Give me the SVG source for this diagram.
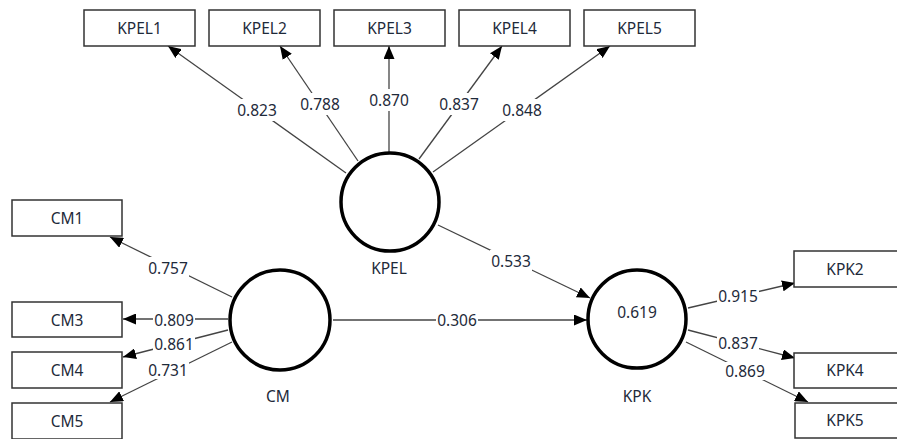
<svg xmlns="http://www.w3.org/2000/svg" width="897" height="439" viewBox="0 0 897 439">
<style>
text{font-family:"Noto Sans","Open Sans","DejaVu Sans",sans-serif;font-size:15.5px;fill:#1e2a3a;text-anchor:middle;dominant-baseline:central}
.box{fill:#fff;stroke:#333;stroke-width:1.5}
.lv{fill:#fff;stroke:#000;stroke-width:3.5}
.e{stroke:#444;stroke-width:1.3;fill:none;marker-end:url(#ah)}
.bg{fill:#fff}
</style>
<defs>
<marker id="ah" markerUnits="userSpaceOnUse" markerWidth="13" markerHeight="11" refX="13" refY="5.5" orient="auto">
<path d="M0,0 L13,5.5 L0,11 z" fill="#000"/>
</marker>
</defs>
<rect width="897" height="439" fill="#fff"/>
<g id="connectors">
<line class="e" x1="346" y1="173" x2="168" y2="46"/>
<line class="e" x1="358" y1="161" x2="280" y2="46"/>
<line class="e" x1="389" y1="152" x2="389" y2="46"/>
<line class="e" x1="419" y1="159" x2="502" y2="46"/>
<line class="e" x1="433" y1="172" x2="610" y2="46"/>
<line class="e" x1="232" y1="297" x2="110" y2="237"/>
<line class="e" x1="228" y1="319" x2="123" y2="319"/>
<line class="e" x1="228" y1="330" x2="123" y2="357"/>
<line class="e" x1="232" y1="342" x2="110" y2="402"/>
<line class="e" x1="333" y1="320" x2="587" y2="320"/>
<line class="e" x1="438" y1="225" x2="590" y2="298"/>
<line class="e" x1="688" y1="308" x2="795" y2="283"/>
<line class="e" x1="688" y1="330" x2="795" y2="358"/>
<line class="e" x1="686" y1="342" x2="808" y2="402"/>
<rect class="bg" x="236" y="99" width="42" height="22"/><text x="257" y="110">0.823</text>
<rect class="bg" x="299" y="93" width="42" height="22"/><text x="320" y="104">0.788</text>
<rect class="bg" x="368" y="89" width="42" height="22"/><text x="389" y="100">0.870</text>
<rect class="bg" x="438" y="93" width="42" height="22"/><text x="459" y="104">0.837</text>
<rect class="bg" x="501" y="99" width="42" height="22"/><text x="522" y="110">0.848</text>
<rect class="bg" x="147" y="257" width="42" height="22"/><text x="168" y="268">0.757</text>
<rect class="bg" x="153" y="311" width="42" height="18"/><text x="174" y="320">0.809</text>
<rect class="bg" x="153" y="335" width="42" height="18"/><text x="174" y="344">0.861</text>
<rect class="bg" x="147" y="361" width="42" height="18"/><text x="168" y="370">0.731</text>
<rect class="bg" x="436" y="310" width="42" height="20"/><text x="457" y="320">0.306</text>
<rect class="bg" x="490" y="250" width="42" height="22"/><text x="511" y="261">0.533</text>
<rect class="bg" x="717" y="286" width="42" height="20"/><text x="738" y="296">0.915</text>
<rect class="bg" x="717" y="334" width="42" height="18"/><text x="738" y="343">0.837</text>
<rect class="bg" x="724" y="362" width="42" height="18"/><text x="745" y="371">0.869</text>
</g>
<g id="KPEL1"><rect class="box" x="84" y="10" width="111" height="36"/><text x="139.5" y="28">KPEL1</text></g>
<g id="KPEL2"><rect class="box" x="209" y="10" width="111" height="36"/><text x="264.5" y="28">KPEL2</text></g>
<g id="KPEL3"><rect class="box" x="334" y="10" width="111" height="36"/><text x="389.5" y="28">KPEL3</text></g>
<g id="KPEL4"><rect class="box" x="459" y="10" width="111" height="36"/><text x="514.5" y="28">KPEL4</text></g>
<g id="KPEL5"><rect class="box" x="584" y="10" width="111" height="36"/><text x="639.5" y="28">KPEL5</text></g>
<g id="CM1"><rect class="box" x="12" y="200" width="110" height="36"/><text x="67" y="218">CM1</text></g>
<g id="CM3"><rect class="box" x="12" y="302" width="110" height="35"/><text x="67" y="320">CM3</text></g>
<g id="CM4"><rect class="box" x="12" y="352" width="110" height="36"/><text x="67" y="370">CM4</text></g>
<g id="CM5"><rect class="box" x="12" y="403" width="110" height="36"/><text x="67" y="421">CM5</text></g>
<g id="KPK2"><rect class="box" x="794" y="251" width="111" height="36"/><text x="845" y="269">KPK2</text></g>
<g id="KPK4"><rect class="box" x="794" y="353" width="111" height="35"/><text x="845" y="370">KPK4</text></g>
<g id="KPK5"><rect class="box" x="795" y="403" width="111" height="35"/><text x="845" y="420">KPK5</text></g>
<g id="KPEL"><circle class="lv" cx="390" cy="202" r="49"/><text x="389" y="268">KPEL</text></g>
<g id="CM"><circle class="lv" cx="280" cy="320" r="50"/><text x="278" y="396">CM</text></g>
<g id="KPK"><circle class="lv" cx="637" cy="319" r="49"/><text x="637" y="312">0.619</text><text x="637" y="396">KPK</text></g>
</svg>
